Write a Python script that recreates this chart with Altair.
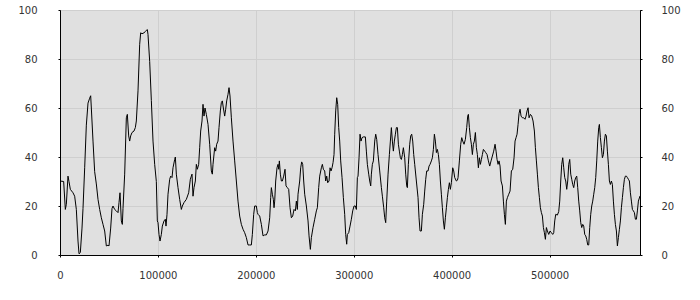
import altair as alt
import pandas as pd

# Series, in six consecutive stretches
x1 = [0, 3745, 5450, 6470, 8170, 9190, 10560, 13280, 14980, 16680, 18390, 19410, 20770, 22470, 23500, 25200, 26900, 28600, 30300, 31330, 32000, 33710, 35410, 37110, 38820, 40520, 42220, 43920, 45630, 47330, 49030, 50050, 51760, 53120, 54140, 55840, 57540, 59250, 60270, 61290, 62650, 63670, 64350, 66060, 67760, 68780, 70140, 71160, 72180, 73550, 75590, 76950, 77970, 79680, 81380, 82400, 83760, 85800, 87170, 88190, 89210, 89890, 91590, 93300, 95000, 96700, 98400, 99420]
y1 = [30.2, 30, 18.6, 20.7, 32.2, 30, 26.8, 25.4, 24, 18.6, 5.7, 0.5, 1, 11, 19, 35.6, 53, 62, 64, 65, 60, 46.5, 34, 29, 22.7, 18.6, 15.2, 12.5, 9.8, 3.7, 4, 3.7, 11, 19, 20, 18.6, 18, 17.3, 21.4, 25.4, 13.9, 12.5, 19, 33, 56, 57.4, 48.6, 46.5, 48.6, 50, 50.6, 52, 54.7, 67, 86, 90.7, 90.3, 90.7, 91.2, 91.7, 92, 90, 79, 63, 46.5, 37, 30, 13.9]

x2 = [100100, 101120, 102140, 103500, 104530, 106230, 107590, 108270, 109300, 110320, 112020, 113040, 114400, 115420, 117130, 117810, 118830, 120530, 122230, 123940, 124960, 126660, 129040, 131430, 133130, 134150, 134830, 135850, 136870, 138240, 139260, 140280, 141640, 142660, 143680, 145050, 146070, 147090, 148110, 149470, 151180, 152880, 154580, 155600, 156280, 157990, 159010, 160030, 161390, 162410, 163770, 164800, 165820, 166840, 168200, 169220, 170240, 171610, 172630, 173650, 175010, 176710, 178420, 180120, 181820, 183520, 185230, 186930, 188630, 190330, 192040, 193740, 195440, 196460, 197820, 198850, 200550, 201570]
y2 = [13.2, 8.4, 5.7, 8.4, 11.8, 13.9, 14.6, 11.8, 16.6, 24.8, 30.9, 32.2, 31.6, 35.6, 39, 40, 33, 27.5, 22.7, 18.6, 20, 21.4, 22.7, 25.4, 30.9, 32.2, 33, 24, 27.5, 30.2, 37, 35, 37, 43.8, 50.6, 54.7, 61.5, 56.7, 60, 57.4, 53.3, 45.2, 34.3, 33, 37, 43.8, 42.4, 45.2, 46.5, 52, 58.8, 62.2, 62.9, 60, 56.7, 59.5, 62.9, 65.6, 68.3, 64.9, 56, 46.5, 38.4, 30.2, 22, 15.9, 12.5, 10.5, 9.1, 7.1, 4.1, 4.1, 4.1, 8.4, 16.6, 20, 20, 17.3]

x3 = [202260, 203960, 205670, 207370, 209070, 210770, 212480, 214180, 215200, 215880, 216900, 217920, 218600, 219290, 220310, 221670, 222690, 223370, 224050, 225070, 226100, 227120, 228480, 229840, 230860, 232220, 233590, 234950, 236310, 237670, 239030, 240400, 241420, 242440, 243120, 244820, 245840, 246870, 247890, 248910, 249930, 251630, 253340, 254360, 255720, 256740, 258440, 260150, 261850, 262870, 264230, 265250, 266960, 267980, 269000, 270360, 271380, 272400, 273420, 274790, 275810, 276830, 277850, 278870, 279890, 280570, 281600, 282620, 283640, 284660, 285680, 286700, 288070, 289430, 290790, 291810, 292830, 293510, 294880, 296240, 297600, 298960, 300320, 301690, 302710, 303730]
y3 = [16.6, 15.9, 12.5, 7.8, 8.2, 8.2, 9.8, 15.2, 23.4, 27.5, 24.8, 22.7, 19.3, 22, 30.2, 35.6, 37, 35, 38.4, 33, 30.2, 30.2, 32.2, 35, 28.2, 27.5, 26.8, 19.3, 15.2, 15.9, 18.6, 18, 22, 18.6, 24.8, 30.2, 35.6, 38, 37, 30.2, 24.8, 20, 13.9, 7.8, 2.3, 7.1, 11.2, 14.6, 18, 19.3, 27.5, 32.2, 35.6, 37, 35, 34.3, 30.2, 32.2, 29.5, 30.2, 35.6, 34.3, 35.6, 37.7, 41, 49.3, 58.8, 64.2, 61.5, 52, 46.5, 38.4, 31.6, 23.4, 16.6, 8.4, 4.4, 8.4, 9.1, 11.8, 14.6, 18, 20, 20, 18.6, 31.6]

x4 = [304410, 305430, 306450, 307470, 308500, 309860, 311900, 312920, 313940, 315310, 316330, 317350, 318030, 319050, 320070, 321440, 322460, 323480, 324840, 326540, 328250, 329270, 330630, 331650, 332670, 333690, 335060, 336420, 337440, 338460, 339480, 340500, 341520, 342550, 343570, 344590, 345610, 346630, 347650, 348680, 349700, 350720, 352080, 353100, 354120, 354800, 355820, 357190, 358210, 359230, 360250, 361270, 362290, 363990, 365700, 366720, 367740, 369100, 370130, 371490, 372510, 373530, 374550, 375920, 376940, 377960, 379320, 380340, 381360, 382380, 383400, 384430, 385450, 386470, 387490, 388510, 389530, 390560, 391580, 392600, 393620, 394640, 395660, 396690, 397710, 398730, 399750, 401110, 402130, 403150, 404860, 405880]
y4 = [32.2, 39.7, 49.3, 46.5, 47.9, 48.2, 48.2, 42.4, 37, 33, 30.2, 28.2, 33, 37, 38.4, 46.5, 49.3, 47.2, 41, 34.3, 27.5, 24, 19.3, 15.2, 13.2, 22, 33, 41, 46.5, 52, 46.5, 42.4, 46.5, 49.3, 52, 52, 45.2, 42.4, 39.7, 39, 41, 43.8, 39.7, 33, 28.2, 27.5, 37, 45.2, 48.6, 49.3, 46.5, 41, 37, 30.2, 23.4, 15.2, 9.8, 9.8, 16.6, 20.7, 26.1, 30.9, 34.3, 34.3, 36.3, 37, 38.4, 39.7, 43.1, 49.3, 46.5, 41.8, 43.1, 41, 37, 30.2, 24.8, 19.3, 13.9, 10.5, 15.2, 19.3, 23.4, 26.8, 29.5, 26.8, 29.5, 35.6, 34.3, 31.6, 30.2, 30.5]

x5 = [406560, 407920, 409280, 410310, 411330, 412690, 414050, 415410, 416430, 417120, 418140, 419160, 420180, 421200, 422220, 423240, 424270, 425290, 426310, 427330, 428350, 429370, 430400, 431420, 432440, 433800, 434820, 436180, 437550, 438910, 440270, 441630, 442990, 444360, 445380, 446400, 447420, 448440, 449460, 450480, 451850, 452870, 453890, 454910, 455930, 456950, 458320, 459680, 461040, 462400, 463760, 464790, 465810, 466830, 467850, 468870, 469890, 470910, 472280, 473640, 475000, 476020, 477040, 478070, 479090, 480450, 481810, 483170, 484530, 485560, 486580, 487600, 488620, 489640, 490660, 491690, 492710, 493730, 494750, 495770, 496790, 497810, 499180, 500540, 501900, 503260, 504280, 505300, 506320]
y5 = [31.6, 38.4, 45.2, 47.9, 46.5, 45.2, 47.2, 52, 56.7, 57.4, 52, 47.9, 45.2, 41, 45.2, 46.5, 50, 43.8, 41, 35.6, 39.7, 37, 39, 41, 43.1, 42.4, 41.8, 41, 38.4, 36.3, 38.4, 40.4, 42.4, 45.2, 42.4, 39, 37, 38.4, 36.3, 30.2, 28.2, 22, 16.6, 12.5, 22, 23.4, 24.8, 26.1, 34.3, 35, 39.7, 46.5, 47.9, 49.3, 53.3, 57.8, 59.5, 56.7, 56, 56, 55.4, 56.7, 58.8, 60.1, 56, 57.4, 56.7, 54.7, 50.6, 43.8, 38.4, 33, 27.5, 23.4, 19.3, 17.3, 15.9, 11.2, 9.1, 6.4, 11.2, 9.8, 8.4, 9.8, 9.1, 8.4, 9.1, 13.9, 16.6]

x6 = [508020, 509380, 510410, 511430, 512450, 513470, 514490, 515510, 516540, 517560, 518580, 519600, 520620, 521640, 522660, 523690, 524710, 525730, 526750, 527770, 528790, 529810, 530840, 531860, 532880, 533900, 534920, 535940, 536960, 537990, 539010, 540030, 541050, 542070, 543090, 544110, 545140, 546160, 547180, 548200, 549220, 550240, 550920, 551950, 552970, 553990, 555010, 556030, 557050, 558070, 559100, 560120, 561140, 562160, 563180, 564200, 565230, 566250, 567270, 568290, 569310, 570330, 571350, 572380, 573400, 574420, 575440, 576460, 577480, 578500, 579530, 580550, 581570, 582590, 583610, 584630, 585660, 586680, 587700, 588720, 589740, 590760, 592400]
y6 = [16.3, 17.7, 22, 30.2, 37, 39.7, 35.6, 31.6, 30.2, 26.8, 30.2, 37, 39, 33, 30.9, 28.8, 27.5, 30.2, 31.6, 32.2, 27.5, 22, 18, 13.2, 11.2, 12.5, 11.8, 8.4, 7.8, 6.4, 4.1, 4.1, 11.2, 16.6, 20, 22, 24.8, 27.5, 31.6, 38.4, 46.5, 52, 53.3, 47.9, 43.8, 39.7, 41, 46.5, 49.3, 48.6, 42.4, 37, 30.2, 28.8, 30.2, 28.8, 22, 16.6, 12.5, 9.8, 3.7, 7.1, 10.5, 13.9, 19.3, 23.4, 27.5, 30.9, 32.2, 32.2, 31.6, 30.9, 30.2, 25.4, 22, 18.6, 18, 17.3, 14.6, 14.6, 18, 22, 24.1]

x_ticks = [0, 100000, 200000, 300000, 400000, 500000]
y_ticks = [0, 20, 40, 60, 80, 100]
x_max = 592400

df = pd.DataFrame({"x": x1 + x2 + x3 + x4 + x5 + x6,
                   "y": y1 + y2 + y3 + y4 + y5 + y6})

FONT = "DejaVu Sans"
LBL = "#333333"
GRID = "#cfcfcf"

xscale = alt.Scale(domain=[0, x_max], nice=False, zero=False)
yscale = alt.Scale(domain=[0, 100], nice=False)

common_axis = dict(title=None, tickSize=2, tickColor="black", domainColor="black",
                   labelFont=FONT, labelFontSize=10, labelColor=LBL)

x_axis = alt.Axis(values=x_ticks, format="d", labelPadding=13, grid=True,
                  gridColor=GRID, gridWidth=1, labelFlush=False, **common_axis)

base = alt.Chart(df)

line = base.mark_line(color="black", strokeWidth=1).encode(
    x=alt.X("x:Q", scale=xscale, axis=x_axis),
    y=alt.Y("y:Q", scale=yscale,
            axis=alt.Axis(values=y_ticks, orient="left", labelPadding=21, grid=True,
                          gridColor=GRID, gridWidth=1, **common_axis)),
)

right = base.mark_line(opacity=0).encode(
    x=alt.X("x:Q", scale=xscale, axis=x_axis),
    y=alt.Y("y:Q", scale=yscale,
            axis=alt.Axis(values=y_ticks, orient="right", labelPadding=19, grid=False,
                          **common_axis)),
)

chart = (
    alt.layer(line, right)
    .resolve_scale(y="independent")
    .properties(width=580, height=245, autosize="none",
                padding={"left": 60, "top": 10, "right": 60, "bottom": 45})
    .configure_view(fill="#e0e0e0", stroke="black", strokeWidth=1)
)

chart.save("out.html", embed_options={"renderer": "svg", "actions": False})
